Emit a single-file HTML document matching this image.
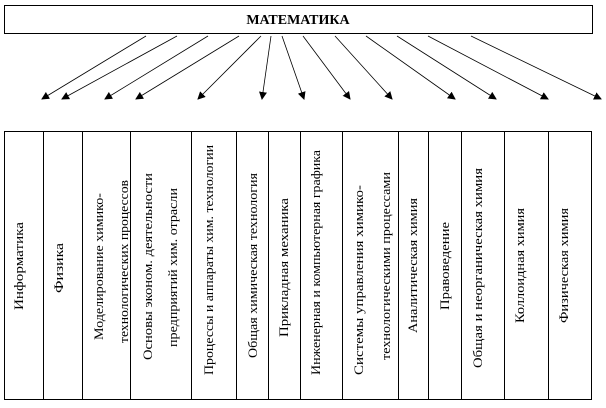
<!DOCTYPE html>
<html><head><meta charset="utf-8"><style>
html,body{margin:0;padding:0;background:#fff;}
svg{display:block;font-family:"Liberation Serif","DejaVu Serif",serif;}
</style></head><body>
<svg width="606" height="408" viewBox="0 0 606 408" xmlns="http://www.w3.org/2000/svg">
<defs><marker id="a" markerWidth="8" markerHeight="8" refX="7" refY="4" orient="auto" markerUnits="userSpaceOnUse"><path d="M0,0 L8,4 L0,8 z" fill="#000"/></marker></defs>
<rect x="4.5" y="5.5" width="588" height="28" fill="#fff" stroke="#000" stroke-width="1"/>
<text x="298" y="24" text-anchor="middle" font-weight="bold" font-size="14">МАТЕМАТИКА</text>
<g stroke="#000" stroke-width="0.8" marker-end="url(#a)">
<line x1="146" y1="36" x2="42" y2="99"/>
<line x1="177" y1="36" x2="62" y2="99"/>
<line x1="208" y1="36" x2="105" y2="99"/>
<line x1="239" y1="36" x2="136" y2="99"/>
<line x1="261" y1="36" x2="198" y2="99"/>
<line x1="271" y1="36" x2="262" y2="99"/>
<line x1="282" y1="36" x2="304" y2="99"/>
<line x1="303" y1="36" x2="350" y2="99"/>
<line x1="335" y1="36" x2="392" y2="99"/>
<line x1="366" y1="36" x2="455" y2="99"/>
<line x1="397" y1="36" x2="496" y2="99"/>
<line x1="428" y1="36" x2="548" y2="99"/>
<line x1="471" y1="36" x2="601" y2="99"/>
</g>
<g stroke="#000" stroke-width="1" fill="none">
<rect x="4.5" y="131.5" width="587" height="268"/>
<path d="M43.5 131V400M82.5 131V400M130.5 131V400M191.5 131V400M236.5 131V400M268.5 131V400M300.5 131V400M342.5 131V400M398.5 131V400M428.5 131V400M461.5 131V400M504.5 131V400M548.5 131V400"/>
</g>
<g font-size="13" fill="#000">
<text transform="translate(23,310) rotate(-90)" textLength="88" lengthAdjust="spacingAndGlyphs">Информатика</text>
<text transform="translate(63,293) rotate(-90)" textLength="50" lengthAdjust="spacingAndGlyphs">Физика</text>
<text transform="translate(103,340) rotate(-90)" textLength="147" lengthAdjust="spacingAndGlyphs">Моделирование химико-</text>
<text transform="translate(128,343) rotate(-90)" textLength="163" lengthAdjust="spacingAndGlyphs">технологических процессов</text>
<text transform="translate(152,360) rotate(-90)" textLength="187" lengthAdjust="spacingAndGlyphs">Основы эконом. деятельности</text>
<text transform="translate(177,347) rotate(-90)" textLength="159" lengthAdjust="spacingAndGlyphs">предприятий хим. отрасли</text>
<text transform="translate(213,375) rotate(-90)" textLength="230" lengthAdjust="spacingAndGlyphs">Процессы и аппараты хим. технологии</text>
<text transform="translate(257,358) rotate(-90)" textLength="185" lengthAdjust="spacingAndGlyphs">Общая химическая технология</text>
<text transform="translate(288,337) rotate(-90)" textLength="139" lengthAdjust="spacingAndGlyphs">Прикладная механика</text>
<text transform="translate(320,375) rotate(-90)" textLength="225" lengthAdjust="spacingAndGlyphs">Инженерная и компьютерная графика</text>
<text transform="translate(363,375) rotate(-90)" textLength="190" lengthAdjust="spacingAndGlyphs">Системы управления химико-</text>
<text transform="translate(390,360) rotate(-90)" textLength="188" lengthAdjust="spacingAndGlyphs">технологическими процессами</text>
<text transform="translate(417,333) rotate(-90)" textLength="135" lengthAdjust="spacingAndGlyphs">Аналитическая химия</text>
<text transform="translate(449,310) rotate(-90)" textLength="88" lengthAdjust="spacingAndGlyphs">Правоведение</text>
<text transform="translate(482,368) rotate(-90)" textLength="200" lengthAdjust="spacingAndGlyphs">Общая и неорганическая химия</text>
<text transform="translate(524,323) rotate(-90)" textLength="115" lengthAdjust="spacingAndGlyphs">Коллоидная химия</text>
<text transform="translate(568,323) rotate(-90)" textLength="115" lengthAdjust="spacingAndGlyphs">Физическая химия</text>
</g>
</svg>
</body></html>
